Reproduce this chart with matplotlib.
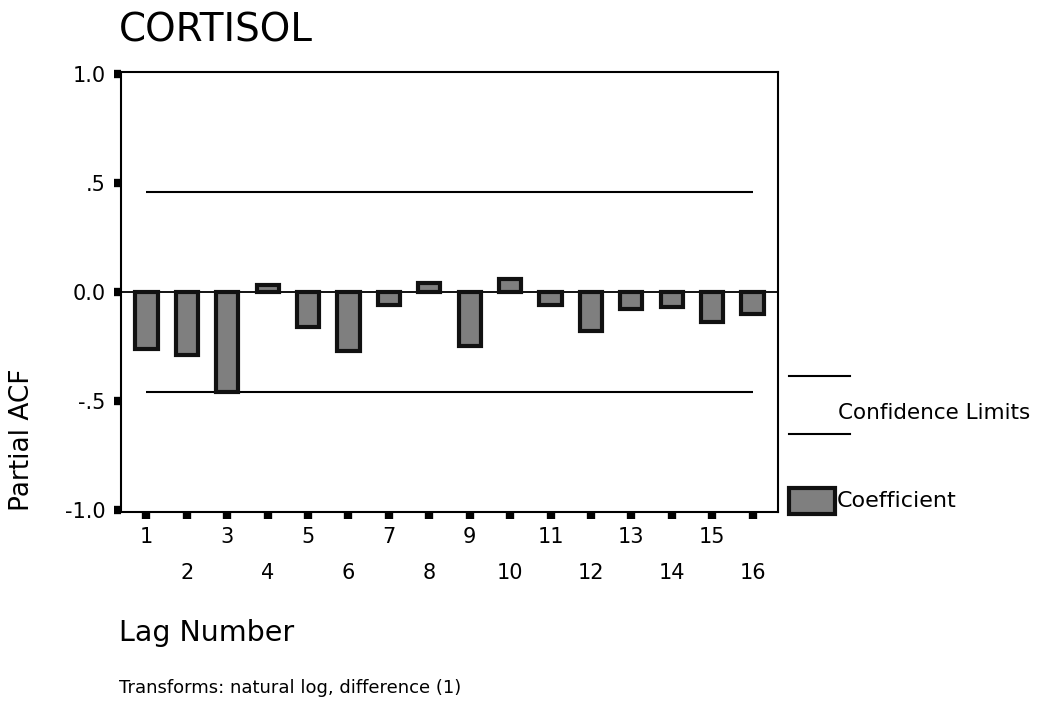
import numpy as np
import matplotlib
matplotlib.use("Agg")
import matplotlib.pyplot as plt
from matplotlib.lines import Line2D
from matplotlib.patches import Rectangle

# partial autocorrelation values
lags = list(range(1, 17))
pacf = [-0.26, -0.29, -0.46, 0.03, -0.16, -0.27, -0.06, 0.04,
        -0.25, 0.06, -0.06, -0.18, -0.08, -0.07, -0.14, -0.10]
conf_limit = 0.46

yticks = [1.0, 0.5, 0.0, -0.5, -1.0]
ytick_labels = ["1.0", ".5", "0.0", "-.5", "-1.0"]

plt.rcParams['font.family'] = ['DejaVu Sans']

W, H = 1042, 701
fig = plt.figure(figsize=(W / 100, H / 100), dpi=100)
ax = fig.add_axes([121 / W, 1 - 512 / H, (778 - 121) / W, (512 - 72) / H])

# bars
ax.bar(lags, pacf, width=0.55, color='#7f7f7f', edgecolor='#111111', linewidth=3, zorder=3)
ax.axhline(0, color='black', linewidth=1.3, zorder=2)

# confidence limits
ax.hlines([conf_limit, -conf_limit], 1, 16, color='black', linewidth=1.5, zorder=2)

ax.set_xlim(0.37, 16.63)
ax.set_ylim(-1.01, 1.01)

ax.set_yticks(yticks)
ax.set_yticklabels(ytick_labels, fontsize=15)
ax.set_xticks(lags)
ax.set_xticklabels([str(l) for l in lags], fontsize=15)
ax.tick_params(axis='both', direction='out', length=5, width=6, color='black')
ax.tick_params(axis='y', pad=6)
for i, tick in enumerate(ax.xaxis.get_major_ticks()):
    tick.set_pad(6 if i % 2 == 0 else 32)

for sp in ax.spines.values():
    sp.set_linewidth(1.5)

# titles and labels
fig.text(119 / W, 1 - 30 / H, "CORTISOL", fontsize=28, va='center', ha='left')
fig.text(22 / W, 1 - 440 / H, "Partial ACF", fontsize=19, rotation=90, va='center', ha='center')
fig.text(119 / W, 1 - 633 / H, "Lag Number", fontsize=20.5, va='center', ha='left')
fig.text(119 / W, 1 - 688 / H, "Transforms: natural log, difference (1)", fontsize=13,
         va='center', ha='left')

# legend drawn by hand
fig.add_artist(Line2D([789 / W, 850 / W], [1 - 376 / H, 1 - 376 / H], color='black', linewidth=1.5))
fig.add_artist(Line2D([789 / W, 850 / W], [1 - 434 / H, 1 - 434 / H], color='black', linewidth=1.5))
fig.text(838 / W, 1 - 413 / H, "Confidence Limits", fontsize=15.5, va='center', ha='left')
fig.add_artist(Rectangle((789 / W, 1 - 514 / H), 46 / W, 26 / H, transform=fig.transFigure,
                         facecolor='#7f7f7f', edgecolor='#111111', linewidth=3))
fig.text(837 / W, 1 - 501 / H, "Coefficient", fontsize=16, va='center', ha='left')

fig.savefig("out.png", dpi=100)
